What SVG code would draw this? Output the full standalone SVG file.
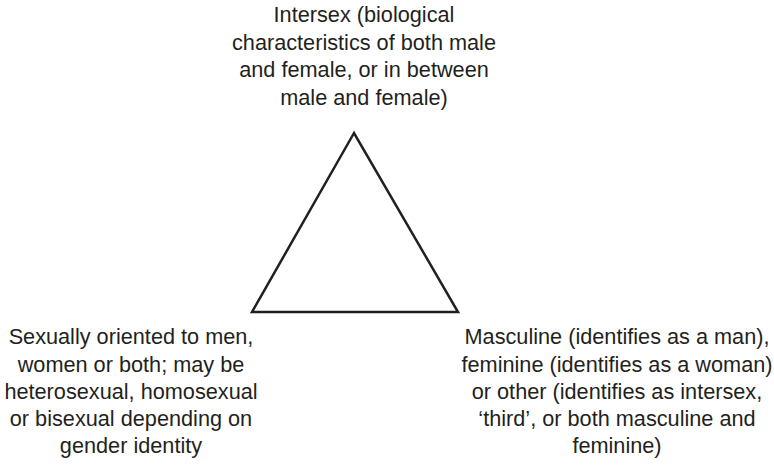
<svg xmlns="http://www.w3.org/2000/svg" width="774" height="467" viewBox="0 0 774 467">
<style>
text{font-family:"Liberation Sans",Arial,sans-serif;font-size:21.7px;fill:#231f20;text-anchor:middle}
.tri{fill:none;stroke:#231f20;stroke-width:2.5;stroke-linejoin:miter}
</style>
<rect width="774" height="467" fill="#fff"/>
<g id="connectors">
<polygon class="tri" points="354,133 252,312 458,312"/>
</g>
<g id="intersex">
<text x="364" y="22">Intersex (biological</text>
<text x="364" y="49.5">characteristics of both male</text>
<text x="364" y="77">and female, or in between</text>
<text x="364" y="104.5">male and female)</text>
</g>
<g id="orientation">
<text x="131" y="344">Sexually oriented to men,</text>
<text x="131" y="371.5">women or both; may be</text>
<text x="131" y="398.5">heterosexual, homosexual</text>
<text x="131" y="426">or bisexual depending on</text>
<text x="131" y="453">gender identity</text>
</g>
<g id="gender">
<text x="617" y="344">Masculine (identifies as a man),</text>
<text x="617" y="371.5">feminine (identifies as a woman)</text>
<text x="617" y="398.5">or other (identifies as intersex,</text>
<text x="617" y="426">‘third’, or both masculine and</text>
<text x="617" y="453">feminine)</text>
</g>
</svg>
